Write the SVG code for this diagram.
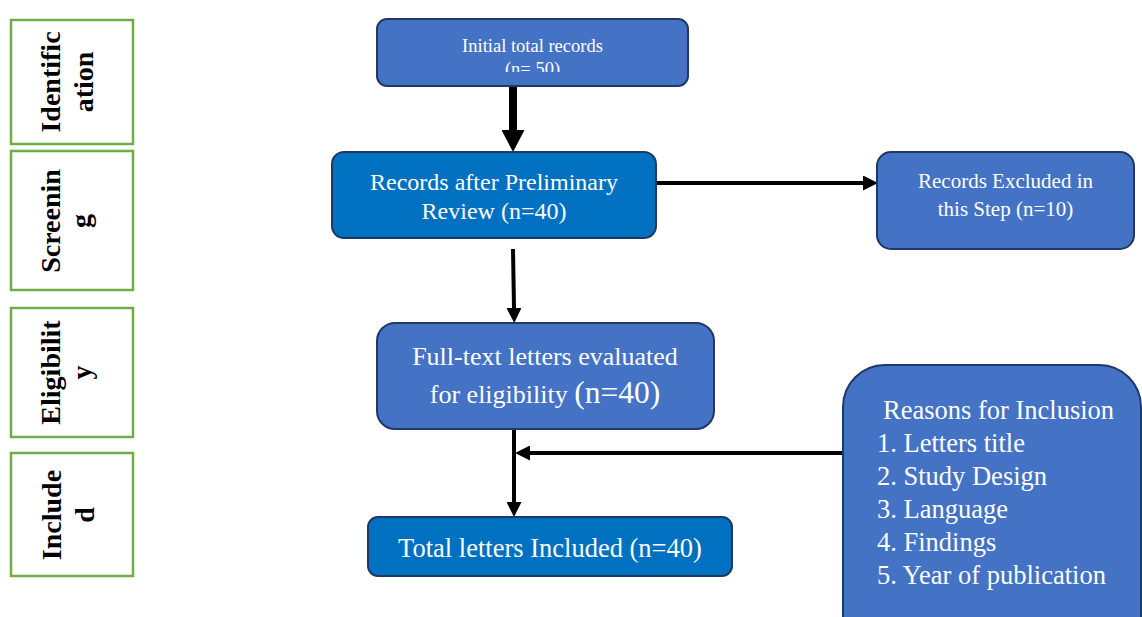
<svg xmlns="http://www.w3.org/2000/svg" width="1142" height="617" viewBox="0 0 1142 617">
<style>
.stage{fill:#fff;stroke:#70AD47;stroke-width:2.5}
.stxt{font-family:"Liberation Serif","Times New Roman",serif;font-weight:bold;font-size:28px;fill:#000;text-anchor:middle}
.bA{fill:#4472C4;stroke:#1F3864;stroke-width:2}
.bB{fill:#0070C0;stroke:#1F3864;stroke-width:2}
.t{font-family:"Liberation Serif","Times New Roman",serif;fill:#fff;text-anchor:middle}
.tl{font-family:"Liberation Serif","Times New Roman",serif;fill:#fff;font-size:26.5px}
.c{fill:none;stroke:#000;stroke-width:4}
</style>
<defs>
<marker id="thin" markerUnits="userSpaceOnUse" viewBox="0 0 15 15" markerWidth="15" markerHeight="15" refX="0" refY="7.5" orient="auto">
<path d="M0,0 L15,7.5 L0,15 z" fill="#000"/>
</marker>
<marker id="thick" markerUnits="userSpaceOnUse" viewBox="0 0 22 23" markerWidth="22" markerHeight="23" refX="0" refY="11.5" orient="auto">
<path d="M0,0 L22,11.5 L0,23 z" fill="#000"/>
</marker>
<clipPath id="clip1"><rect x="377" y="19" width="311" height="53"/></clipPath>
</defs>

<g id="stage-identification">
<rect class="stage" x="11" y="20" width="122" height="124"/>
<text class="stxt" transform="rotate(-90)"><tspan x="-82" y="60">Identific</tspan><tspan x="-82" y="93">ation</tspan></text>
</g>
<g id="stage-screening">
<rect class="stage" x="11" y="151" width="122" height="139"/>
<text class="stxt" transform="rotate(-90)"><tspan x="-221" y="60">Screenin</tspan><tspan x="-221" y="90">g</tspan></text>
</g>
<g id="stage-eligibility">
<rect class="stage" x="11" y="308" width="122" height="129"/>
<text class="stxt" transform="rotate(-90)"><tspan x="-372.5" y="60">Eligibilit</tspan><tspan x="-372.5" y="91">y</tspan></text>
</g>
<g id="stage-included">
<rect class="stage" x="11" y="453" width="122" height="123"/>
<text class="stxt" transform="rotate(-90)"><tspan x="-515" y="61">Include</tspan><tspan x="-515" y="94">d</tspan></text>
</g>

<g id="connectors">
<path d="M513,86 L513,130" fill="none" stroke="#000" stroke-width="8" marker-end="url(#thick)"/>
<path class="c" d="M656,183 L863,183" marker-end="url(#thin)"/>
<path class="c" d="M513,249 L514,308" marker-end="url(#thin)"/>
<path class="c" d="M514,429 L514,502" marker-end="url(#thin)"/>
<path class="c" d="M843,453 L530,453" marker-end="url(#thin)"/>
</g>

<g id="node-initial">
<rect class="bA" x="377" y="19" width="311" height="67" rx="10"/>
<text class="t" font-size="18.5" clip-path="url(#clip1)"><tspan x="532.5" y="52">Initial total records</tspan><tspan x="532.5" y="75">(n= 50)</tspan></text>
</g>
<g id="node-preliminary">
<rect class="bB" x="332" y="152" width="324" height="86" rx="12"/>
<text class="t" font-size="24"><tspan x="494" y="190">Records after Preliminary</tspan><tspan x="494" y="219">Review (n=40)</tspan></text>
</g>
<g id="node-excluded">
<rect class="bA" x="877" y="152" width="257" height="97" rx="14"/>
<text class="t" font-size="21"><tspan x="1005.5" y="188">Records Excluded in</tspan><tspan x="1005.5" y="216">this Step (n=10)</tspan></text>
</g>
<g id="node-fulltext">
<rect class="bA" x="377" y="323" width="337" height="106" rx="18"/>
<text class="t" font-size="26"><tspan x="545" y="365">Full-text letters evaluated</tspan><tspan x="545" y="403">for eligibility <tspan font-size="31.5">(n=40)</tspan></tspan></text>
</g>
<g id="node-total">
<rect class="bB" x="368" y="517" width="364" height="59" rx="10"/>
<text class="t" font-size="26.5" x="550" y="557">Total letters Included (n=40)</text>
</g>
<g id="node-reasons">
<rect class="bA" x="843" y="365" width="298" height="300" rx="42"/>
<text class="tl"><tspan x="883" y="419">Reasons for Inclusion</tspan><tspan x="877" y="452">1. Letters title</tspan><tspan x="877" y="485">2. Study Design</tspan><tspan x="877" y="518">3. Language</tspan><tspan x="877" y="551">4. Findings</tspan><tspan x="877" y="584">5. Year of publication</tspan></text>
</g>
</svg>
